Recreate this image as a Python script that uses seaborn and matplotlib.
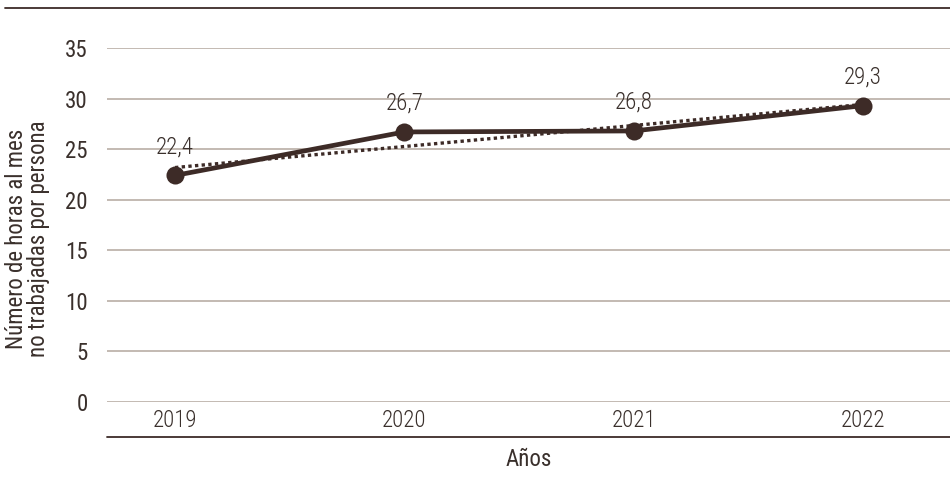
import matplotlib
matplotlib.use("Agg")
import matplotlib.pyplot as plt
from matplotlib.lines import Line2D
import seaborn as sns
import numpy as np

# data
years = ["2019", "2020", "2021", "2022"]
hours = [22.4, 26.7, 26.8, 29.3]
value_labels = ["22,4", "26,7", "26,8", "29,3"]
y_ticks = [0, 5, 10, 15, 20, 25, 30, 35]

line_color = "#3d2b27"
grid_color = "#b9aea6"
text_color = "#3a302c"

sns.set_theme(style="white")
plt.rcParams["font.family"] = ["Liberation Sans Narrow", "Roboto Condensed", "DejaVu Sans"]
plt.rcParams["font.stretch"] = "condensed"

fig = plt.figure(figsize=(9.5, 4.8), dpi=100)
ax = fig.add_axes([0.1126, 0.1625, 0.8874, 0.7375])

x_idx = np.arange(len(years))

# trend line (least squares fit)
sns.regplot(x=x_idx, y=hours, ax=ax, ci=None, scatter=False, truncate=True,
            line_kws=dict(color=line_color, lw=2.4, ls=(0, (1, 1)), zorder=2))

sns.lineplot(x=x_idx, y=hours, ax=ax, color=line_color, lw=3.4, marker="o",
             markersize=13, markeredgewidth=0, zorder=3)

for xi, yv, lab in zip(x_idx, hours, value_labels):
    ax.annotate(lab, (xi, yv), xytext=(0, 16), textcoords="offset points",
                ha="center", va="baseline", fontsize=16.5, fontweight="light",
                color=text_color)

ax.set_ylim(0, 35)
ax.set_xlim(-0.297, 3.38)
ax.set_yticks(y_ticks)
ax.set_xticks(x_idx)
ax.set_xticklabels(years, fontweight="light")
ax.yaxis.grid(True, color=grid_color, lw=1.2)
ax.xaxis.grid(False)
ax.tick_params(axis="both", length=0, labelsize=16.5, colors=text_color)
ax.tick_params(axis="x", pad=5)
ax.tick_params(axis="y", pad=14)

for side in ["top", "right", "left", "bottom"]:
    ax.spines[side].set_visible(False)

ax.set_xlabel("Años", fontsize=16.5, color=text_color)
ax.xaxis.set_label_coords(0.5, -0.13)
ax.set_ylabel("Número de horas al mes\nno trabajadas por persona", fontsize=16.5,
              color=text_color, linespacing=0.95)
ax.yaxis.set_label_coords(-0.068, 0.46)

# rules above the plot and below the year labels
fig.add_artist(Line2D([5 / 950, 1], [1 - 8 / 480, 1 - 8 / 480], color=line_color,
                      lw=1.3, transform=fig.transFigure))
fig.add_artist(Line2D([107 / 950, 1], [1 - 437 / 480, 1 - 437 / 480], color=line_color,
                      lw=1.3, transform=fig.transFigure))

fig.savefig("out.png", dpi=100)
